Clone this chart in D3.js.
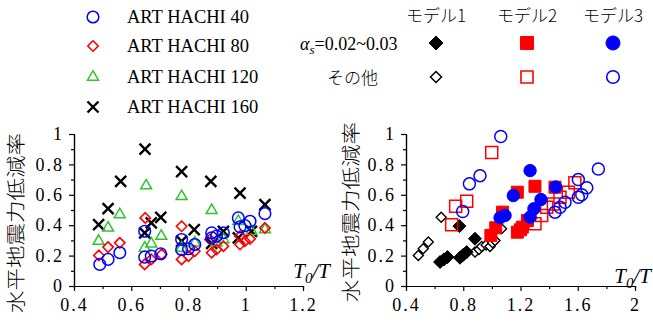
<!DOCTYPE html>
<html>
<head>
<meta charset="utf-8">
<script src="https://cdn.jsdelivr.net/npm/d3@7"></script>
<style>
  body { margin: 0; background: #fff; }
  svg { display: block; }
  text { font-family: "Liberation Serif", "Times New Roman", Tinos, serif; }
  .tick text { font-family: "Liberation Serif", "Times New Roman", Tinos, serif; font-size: 18px; letter-spacing: 2px; fill: #000; }
  .domain, .tick line { stroke: #000; stroke-width: 1.2; }
  .jp { font-family: "Noto Sans CJK JP", sans-serif; font-weight: 300; }
</style>
</head>
<body>
<div id="chart"></div>
<script>
// ---- data ----
// left: ART HACHI series
const hachi40X = [0.49, 0.519, 0.56, 0.647, 0.647, 0.67, 0.703, 0.776, 0.776, 0.8, 0.822, 0.881, 0.881, 0.898, 0.922, 0.974, 0.98, 0.997, 1.015, 1.067];
const hachi40Y = [0.142, 0.175, 0.219, 0.36, 0.19, 0.197, 0.212, 0.306, 0.24, 0.245, 0.273, 0.35, 0.317, 0.328, 0.35, 0.448, 0.389, 0.397, 0.426, 0.476];
const hachi80X = [0.487, 0.519, 0.56, 0.649, 0.647, 0.67, 0.706, 0.776, 0.776, 0.8, 0.822, 0.881, 0.898, 0.922, 0.875, 0.98, 0.98, 0.997, 1.015, 1.067];
const hachi80Y = [0.201, 0.256, 0.284, 0.448, 0.142, 0.175, 0.208, 0.393, 0.175, 0.197, 0.229, 0.219, 0.24, 0.262, 0.306, 0.273, 0.328, 0.295, 0.31, 0.382];
const hachi120X = [0.486, 0.519, 0.56, 0.652, 0.647, 0.67, 0.705, 0.776, 0.776, 0.822, 0.881, 0.898, 0.922, 0.974, 1.02, 1.067];
const hachi120Y = [0.295, 0.382, 0.47, 0.66, 0.25, 0.278, 0.328, 0.589, 0.25, 0.284, 0.498, 0.284, 0.306, 0.426, 0.36, 0.371];
const hachi160X = [0.486, 0.519, 0.563, 0.648, 0.647, 0.67, 0.703, 0.776, 0.776, 0.82, 0.878, 0.881, 0.922, 0.98, 0.974, 1.02, 1.067];
const hachi160Y = [0.404, 0.509, 0.688, 0.9, 0.35, 0.415, 0.452, 0.753, 0.295, 0.371, 0.688, 0.28, 0.36, 0.611, 0.317, 0.36, 0.535];

// right: models, αs=0.02~0.03 (filled) and others (open)
const model1FillX = [0.638, 0.665, 0.69, 0.777, 0.8, 0.824, 0.882, 0.773];
const model1FillY = [0.158, 0.175, 0.19, 0.186, 0.205, 0.223, 0.311, 0.394];
const model1OpenX = [0.486, 0.52, 0.556, 0.646, 0.882, 0.91, 0.929, 0.96, 0.987, 1.005, 1.022, 1.068];
const model1OpenY = [0.201, 0.245, 0.289, 0.453, 0.223, 0.24, 0.26, 0.27, 0.26, 0.285, 0.3, 0.377];
const model2FillX = [0.993, 1.027, 1.074, 1.178, 1.2, 1.213, 1.249, 1.178, 1.301, 1.441];
const model2FillY = [0.333, 0.383, 0.486, 0.354, 0.37, 0.387, 0.431, 0.617, 0.656, 0.65];
const model2OpenX = [0.999, 0.747, 0.824, 0.719, 1.301, 1.348, 1.383, 1.43, 1.476, 1.534, 1.58];
const model2OpenY = [0.879, 0.525, 0.558, 0.403, 0.409, 0.464, 0.518, 0.54, 0.584, 0.617, 0.68];
const model3FillX = [1.057, 1.092, 1.15, 1.267, 1.267, 1.294, 1.343, 1.446];
const model3FillY = [0.449, 0.464, 0.595, 0.759, 0.453, 0.508, 0.569, 0.651];
const model3OpenX = [1.062, 0.917, 0.843, 0.796, 1.441, 1.476, 1.511, 1.604, 1.628, 1.663, 1.604, 1.744];
const model3OpenY = [0.984, 0.726, 0.672, 0.49, 0.486, 0.518, 0.551, 0.584, 0.6, 0.646, 0.7, 0.77];

const yTicks = [0, 0.2, 0.4, 0.6, 0.8, 1];
const leftXTicks = [0.4, 0.6, 0.8, 1, 1.2];
const rightXTicks = [0.4, 0.8, 1.2, 1.6, 2];
const hachiNames = ["ART HACHI 40", "ART HACHI 80", "ART HACHI 120", "ART HACHI 160"];
const modelNames = ["モデル1", "モデル2", "モデル3"];
const yLabel = "水平地震力低減率";

const W = 653, H = 323;
const svg = d3.select("#chart").append("svg").attr("width", W).attr("height", H);

const zip = (xs, ys) => xs.map((x, i) => ({x: x, y: ys[i]}));

// marker paths via d3.symbol, r = half extent in px
const sym = (type, r) => {
  const s = {circle: Math.PI * r * r, diamond: Math.pow(r / 0.62625, 2),
    tri: Math.pow(r / 0.6824, 2), x: Math.pow(r / 0.6189, 2) + 1.7, square: Math.pow(r / 0.4431, 2)}[type];
  const t = {circle: d3.symbolCircle, diamond: d3.symbolDiamond2, tri: d3.symbolTriangle2,
    x: d3.symbolX, square: d3.symbolSquare2}[type];
  return d3.symbol().type(t).size(s)();
};

function drawAxes(g, x, y, xt, xMinor) {
  g.append("g").attr("transform", "translate(0," + y(0) + ")")
    .call(d3.axisBottom(x).tickValues(xMinor).tickSize(3).tickFormat(""));
  g.append("g").attr("transform", "translate(0," + y(0) + ")")
    .call(d3.axisBottom(x).tickValues(xt).tickSize(5).tickSizeOuter(0).tickPadding(7)
      .tickFormat(d3.format("~g")));
  g.append("g").attr("transform", "translate(" + x.range()[0] + ",0)")
    .call(d3.axisLeft(y).tickValues(d3.range(0.1, 1, 0.2)).tickSize(3).tickFormat(""));
  g.append("g").attr("transform", "translate(" + x.range()[0] + ",0)")
    .call(d3.axisLeft(y).tickValues(yTicks).tickSize(5).tickSizeOuter(0).tickPadding(5)
      .tickFormat(d3.format("~g")));
  g.selectAll("g").attr("font-family", null).attr("font-size", null);
}

function points(g, data, x, y, path, fill, stroke, sw) {
  g.selectAll(null).data(data).enter().append("path")
    .attr("d", path)
    .attr("transform", d => "translate(" + x(d.x) + "," + y(d.y) + ")")
    .attr("fill", fill).attr("stroke", stroke).attr("stroke-width", sw);
}

function axisTitle(cx, cy, tx, ty) {
  svg.append("text").attr("class", "jp")
    .attr("transform", "translate(" + cx + "," + cy + ") rotate(-90)")
    .attr("text-anchor", "middle").attr("dy", "0.35em")
    .attr("textLength", 180).attr("lengthAdjust", "spacingAndGlyphs")
    .style("font-size", "19px")
    .text(yLabel);
  const t = svg.append("text").attr("x", tx).attr("y", ty).attr("text-anchor", "end")
    .style("font-size", "21px").style("font-style", "italic");
  t.append("tspan").text("T");
  t.append("tspan").attr("dy", 5).style("font-size", "15px").text("0");
  t.append("tspan").attr("dy", -5).text("/T");
}

// ---- left chart ----
const xL = d3.scaleLinear().domain([0.4, 1.2]).range([74, 303]);
const yS = d3.scaleLinear().domain([0, 1]).range([286, 134]);
const gL = svg.append("g");
drawAxes(gL, xL, yS, leftXTicks, d3.range(0.5, 1.2, 0.2));

const leftSeries = [
  {data: zip(hachi160X, hachi160Y), path: sym("x", 5.5), fill: "none", stroke: "#000", sw: 2.4},
  {data: zip(hachi120X, hachi120Y), path: sym("tri", 6.3), fill: "none", stroke: "#2ec42e", sw: 1.5},
  {data: zip(hachi80X, hachi80Y), path: sym("diamond", 5.2), fill: "none", stroke: "#ff0000", sw: 1.6},
  {data: zip(hachi40X, hachi40Y), path: sym("circle", 5.8), fill: "none", stroke: "#0000ff", sw: 1.5}
];
leftSeries.forEach(s => points(gL, s.data, xL, yS, s.path, s.fill, s.stroke, s.sw));
axisTitle(16, 223, 330, 278);

// legend left
const legL = [leftSeries[3], leftSeries[2], leftSeries[1], leftSeries[0]];
legL.forEach((s, i) => {
  const cy = [17, 46, 77, 107][i];
  svg.append("path").attr("d", s.path).attr("transform", "translate(93," + cy + ")")
    .attr("fill", "none").attr("stroke", s.stroke).attr("stroke-width", s.sw);
  svg.append("text").attr("x", 127).attr("y", cy + 6)
    .style("font-size", "18.5px")
    .text(hachiNames[i]);
});

// ---- right chart ----
const xR = d3.scaleLinear().domain([0.4, 2]).range([406, 635]);
const gR = svg.append("g");
drawAxes(gR, xR, yS, rightXTicks, d3.range(0.6, 2, 0.4));

const rightSeries = [
  {data: zip(model1OpenX, model1OpenY), path: sym("diamond", 5), fill: "#fff", stroke: "#000", sw: 1.4},
  {data: zip(model1FillX, model1FillY), path: sym("diamond", 6.5), fill: "#000", stroke: "#000", sw: 1},
  {data: zip(model2OpenX, model2OpenY), path: sym("square", 6), fill: "none", stroke: "#ff0000", sw: 1.5},
  {data: zip(model3OpenX, model3OpenY), path: sym("circle", 6), fill: "none", stroke: "#0000ff", sw: 1.5},
  {data: zip(model2FillX, model2FillY), path: sym("square", 6), fill: "#ff0000", stroke: "#ff0000", sw: 1},
  {data: zip(model3FillX, model3FillY), path: sym("circle", 6.2), fill: "#0000ff", stroke: "#0000ff", sw: 1}
];
rightSeries.forEach(s => points(gR, s.data, xR, yS, s.path, s.fill, s.stroke, s.sw));
axisTitle(351, 212, 651, 283);

// legend right
const colX = [436, 527, 613];
modelNames.forEach((m, i) => {
  svg.append("text").attr("class", "jp").attr("x", colX[i]).attr("y", 22).attr("text-anchor", "middle")
    .style("font-size", "17px").text(m);
});
const aLab = svg.append("text").attr("x", 300).attr("y", 50).style("font-size", "18px");
aLab.append("tspan").style("font-style", "italic").text("α");
aLab.append("tspan").attr("dy", 4).style("font-style", "italic").style("font-size", "13px").text("s");
aLab.append("tspan").attr("dy", -4).text("=0.02~0.03");
svg.append("text").attr("class", "jp").attr("x", 327).attr("y", 84)
  .style("font-size", "17px").text("その他");

const legFill = [
  {path: sym("diamond", 7), fill: "#000", stroke: "#000", sw: 1},
  {path: sym("square", 6.5), fill: "#ff0000", stroke: "#ff0000", sw: 1},
  {path: sym("circle", 7), fill: "#0000ff", stroke: "#0000ff", sw: 1}
];
const legOpen = [
  {path: sym("diamond", 5.5), fill: "none", stroke: "#000", sw: 1.5},
  {path: sym("square", 6), fill: "none", stroke: "#ff0000", sw: 1.6},
  {path: sym("circle", 6.3), fill: "none", stroke: "#0000ff", sw: 1.6}
];
legFill.forEach((s, i) => svg.append("path").attr("d", s.path)
  .attr("transform", "translate(" + colX[i] + ",43)")
  .attr("fill", s.fill).attr("stroke", s.stroke).attr("stroke-width", s.sw));
legOpen.forEach((s, i) => svg.append("path").attr("d", s.path)
  .attr("transform", "translate(" + colX[i] + ",77)")
  .attr("fill", s.fill).attr("stroke", s.stroke).attr("stroke-width", s.sw));
</script>
</body>
</html>
